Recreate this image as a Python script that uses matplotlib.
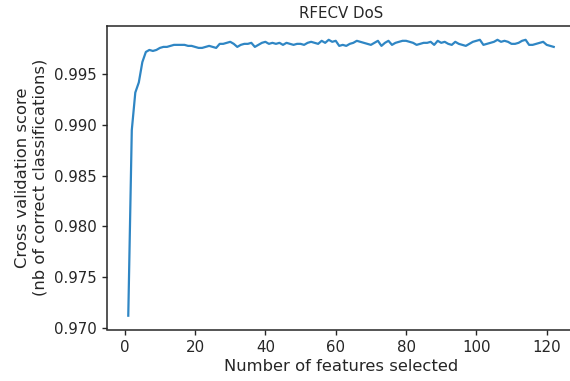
import matplotlib
matplotlib.use("Agg")
import matplotlib.pyplot as plt

# number of selected features
n_features = list(range(1, 123))

# cross validation score
scores = [
  0.9712, 0.9895, 0.9932, 0.9942, 0.9962, 0.9972, 0.9974, 0.9973, 0.9974, 0.9976,
  0.9977, 0.9977, 0.9978, 0.9979, 0.9979, 0.9979, 0.9979, 0.9978, 0.9978, 0.9977,
  0.9976, 0.9976, 0.9977, 0.9978, 0.9977, 0.9976, 0.9980, 0.9980, 0.9981, 0.9982,
  0.9980, 0.9977, 0.9979, 0.9980, 0.9980, 0.9981, 0.9977, 0.9979, 0.9981, 0.9982,
  0.9980, 0.9981, 0.9980, 0.9981, 0.9979, 0.9981, 0.9980, 0.9979, 0.9980, 0.9980,
  0.9979, 0.9981, 0.9982, 0.9981, 0.9980, 0.9983, 0.9981, 0.9984, 0.9982, 0.9983,
  0.9978, 0.9979, 0.9978, 0.9980, 0.9981, 0.9983, 0.9982, 0.9981, 0.9980, 0.9979,
  0.9981, 0.9983, 0.9978, 0.9981, 0.9983, 0.9979, 0.9981, 0.9982, 0.9983, 0.9983,
  0.9982, 0.9981, 0.9979, 0.9980, 0.9981, 0.9981, 0.9982, 0.9979, 0.9983, 0.9981,
  0.9982, 0.9980, 0.9979, 0.9982, 0.9980, 0.9979, 0.9978, 0.9980, 0.9982, 0.9983,
  0.9984, 0.9979, 0.9980, 0.9981, 0.9982, 0.9984, 0.9982, 0.9983, 0.9982, 0.9980,
  0.9980, 0.9981, 0.9983, 0.9984, 0.9979, 0.9979, 0.9980, 0.9981, 0.9982, 0.9979,
  0.9978, 0.9977,
]

title = "RFECV DoS"
x_label = "Number of features selected"
y_label = "Cross validation score\n(nb of correct classifications)"

text_color = "#262626"
fs = 10.8
label_fs = 11.8

fig = plt.figure(figsize=(5.7, 3.81), dpi=100)
# axes runs past the right edge, like the cropped screenshot
ax = fig.add_axes([107 / 570, 51.5 / 381, 468 / 570, 303.5 / 381])

ax.plot(n_features, scores, color="#2f86c4", linewidth=1.6)

ax.set_title(title, fontsize=fs, color=text_color, pad=6)
ax.set_xlabel(x_label, fontsize=label_fs, color=text_color, labelpad=3)
ax.set_ylabel(y_label, fontsize=label_fs, color=text_color, labelpad=5)

ax.set_xticks([0, 20, 40, 60, 80, 100, 120])
ax.set_yticks([0.970, 0.975, 0.980, 0.985, 0.990, 0.995])
ax.tick_params(labelsize=fs, colors=text_color, length=3.8, width=1.0)
ax.yaxis.set_major_formatter(matplotlib.ticker.FormatStrFormatter("%.3f"))

for sp in ax.spines.values():
  sp.set_color(text_color)
  sp.set_linewidth(1.1)

fig.savefig("out.png", dpi=100)
